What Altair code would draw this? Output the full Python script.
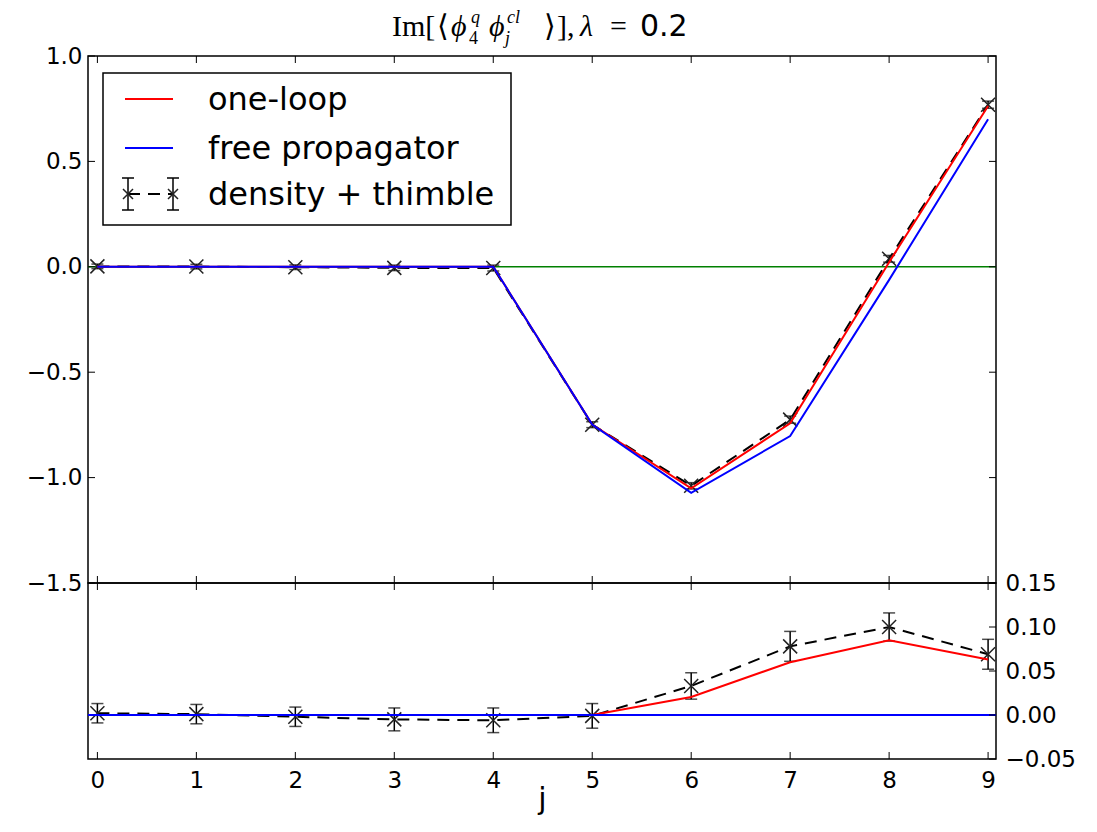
import altair as alt
import pandas as pd

# ---------------- data ----------------
j = list(range(10))
free_top = [0.0, 0.0, 0.0, 0.0, 0.0, -0.748, -1.072, -0.803, -0.062, 0.700]
oneloop_top = [0.0, 0.0, 0.0, 0.0, 0.0, -0.748, -1.051, -0.742, 0.022, 0.763]
density_top = [0.002, 0.001, -0.002, -0.005, -0.006, -0.749, -1.039, -0.725, 0.038, 0.769]
density_err = [0.011, 0.011, 0.011, 0.013, 0.014, 0.014, 0.015, 0.017, 0.016, 0.017]
oneloop_diff = [0.0, 0.0, 0.0, 0.0, 0.0, 0.0, 0.0205, 0.060, 0.085, 0.063]
density_diff = [0.002, 0.001, -0.002, -0.005, -0.006, -0.001, 0.033, 0.078, 0.100, 0.069]

x_ticks = list(range(10))
y_ticks_top = [-1.5, -1.0, -0.5, 0.0, 0.5, 1.0]
y_ticks_bot = [-0.05, 0.0, 0.05, 0.10, 0.15]
legend_labels = ["one-loop", "free propagator", "density + thimble"]

# ---------------- styling ----------------
W, HT, HB = 908, 527, 176
TL = 7  # inward tick length
FONT = "DejaVu Sans"
MATH = "Liberation Serif"
X_PATH = "M-1,-1L1,1M1,-1L-1,1"
LFS = 23  # tick label font size

XS = alt.Scale(domain=[-0.095, 9.08], nice=False, zero=False)
YT = alt.Scale(domain=[-1.5, 1.0], nice=False, zero=False)
YB = alt.Scale(domain=[-0.05, 0.15], nice=False, zero=False)

top_df = pd.DataFrame({"j": j, "free": free_top, "loop": oneloop_top,
                       "dens": density_top, "err": density_err})
bot_df = pd.DataFrame({"j": j, "loop": oneloop_diff, "dens": density_diff,
                       "err": density_err})
xt_df = pd.DataFrame({"t": x_ticks})
yt_top_df = pd.DataFrame({"v": y_ticks_top})
yt_bot_df = pd.DataFrame({"v": y_ticks_bot})
one = pd.DataFrame({"a": [0]})

common_axis = dict(labelFontSize=LFS, labelFont=FONT, labelColor="black",
                   ticks=False, domain=False, grid=False, labelOverlap=False)

XA_TOP = None
XA_BOT = alt.Axis(values=x_ticks, format="d", labelPadding=10, labelFlush=False,
                  title="j", titleFont=FONT, titleFontSize=30, titleFontWeight="normal",
                  titleColor="black", titlePadding=-8, **common_axis)
YA_TOP = alt.Axis(values=y_ticks_top, format=".1f", labelPadding=6, title=None,
                  orient="left", **common_axis)
YA_BOT = alt.Axis(values=y_ticks_bot, format=".2f", labelPadding=9, title=None,
                  orient="right", labelFlush=False, **common_axis)


def panel(df, ys, ya, xa, height, is_top):
    xe = alt.X("j:Q", scale=XS, axis=xa)
    base = alt.Chart(df).transform_calculate(
        lo="datum.dens - datum.err", hi="datum.dens + datum.err")
    layers = []
    if is_top:
        layers.append(alt.Chart(one).mark_rule(color="#008000", strokeWidth=1.5).encode(
            y=alt.YDatum(0.0, type="quantitative", scale=ys, axis=ya)))
    layers += [
        base.mark_rule(color="black", strokeWidth=1.5).encode(
            x=xe, y=alt.Y("lo:Q", scale=ys, axis=ya), y2="hi:Q"),
        base.mark_tick(orient="horizontal", size=12, thickness=1.5, color="black").encode(
            x=xe, y=alt.Y("lo:Q", scale=ys, axis=ya)),
        base.mark_tick(orient="horizontal", size=12, thickness=1.5, color="black").encode(
            x=xe, y=alt.Y("hi:Q", scale=ys, axis=ya)),
        base.mark_line(color="black", strokeWidth=2, strokeDash=[12, 8]).encode(
            x=xe, y=alt.Y("dens:Q", scale=ys, axis=ya)),
        base.mark_point(shape=X_PATH, size=196, filled=False, stroke="#222222",
                        strokeWidth=1.5, opacity=1).encode(
            x=xe, y=alt.Y("dens:Q", scale=ys, axis=ya)),
        base.mark_line(color="#ff0000", strokeWidth=2).encode(
            x=xe, y=alt.Y("loop:Q", scale=ys, axis=ya)),
    ]
    if is_top:
        layers.append(base.mark_line(color="#0000ff", strokeWidth=2).encode(
            x=xe, y=alt.Y("free:Q", scale=ys, axis=ya)))
    else:
        layers.append(alt.Chart(one).mark_rule(color="#0000ff", strokeWidth=2).encode(
            y=alt.YDatum(0.0, type="quantitative", scale=ys, axis=ya)))
    # inward ticks (matplotlib classic style)
    xte = alt.X("t:Q", scale=XS, axis=xa)
    layers += [
        alt.Chart(xt_df).mark_rule(color="black", strokeWidth=1).encode(
            x=xte, y=alt.value(0), y2=alt.value(TL)),
        alt.Chart(xt_df).mark_rule(color="black", strokeWidth=1).encode(
            x=xte, y=alt.value(height - TL), y2=alt.value(height)),
    ]
    ytdf = yt_top_df if is_top else yt_bot_df
    yte = alt.Y("v:Q", scale=ys, axis=ya)
    if is_top:
        layers.append(alt.Chart(ytdf).mark_rule(color="black", strokeWidth=1).encode(
            y=yte, x=alt.value(0), x2=alt.value(TL)))
    layers.append(alt.Chart(ytdf).mark_rule(color="black", strokeWidth=1).encode(
        y=yte, x=alt.value(W - TL), x2=alt.value(W)))
    return layers


def txt(text, x, y, size, font=FONT, style="normal", baseline="alphabetic", align="left"):
    return alt.Chart(one).mark_text(text=text, align=align, baseline=baseline,
                                    fontSize=size, font=font, fontStyle=style,
                                    color="black").encode(x=alt.value(x), y=alt.value(y))


def hrule(x1, x2, y, color="black", sw=2, dash=None):
    kw = dict(color=color, strokeWidth=sw)
    if dash:
        kw["strokeDash"] = dash
    return alt.Chart(one).mark_rule(**kw).encode(x=alt.value(x1), x2=alt.value(x2), y=alt.value(y))


def vrule(x, y1, y2, sw=1.5):
    return alt.Chart(one).mark_rule(color="black", strokeWidth=sw).encode(
        x=alt.value(x), y=alt.value(y1), y2=alt.value(y2))


# legend (drawn inside the top panel)
rows = [43, 92, 138]
legend = [
    alt.Chart(one).mark_rect(fill="white", stroke="black", strokeWidth=1.5).encode(
        x=alt.value(15), x2=alt.value(423), y=alt.value(17), y2=alt.value(169)),
    hrule(37, 85, rows[0], color="#ff0000"),
    hrule(37, 85, rows[1], color="#0000ff"),
    hrule(40, 85, rows[2], dash=[12, 8]),
]
for gx in (40, 85):
    legend += [
        vrule(gx, rows[2] - 16, rows[2] + 16),
        hrule(gx - 6, gx + 6, rows[2] - 16, sw=1.5),
        hrule(gx - 6, gx + 6, rows[2] + 16, sw=1.5),
        alt.Chart(one).mark_point(shape=X_PATH, size=100, filled=False, stroke="#222222",
                                  strokeWidth=1.5, opacity=1).encode(
            x=alt.value(gx), y=alt.value(rows[2])),
    ]
for lab, ry in zip(legend_labels, rows):
    legend.append(txt(lab, 120, ry + 1, 32, baseline="middle"))

# title built from pieces (math-like)
TB = -20
title = [
    txt("Im[", 304, TB, 30, font=MATH),
    txt("\u27e8", 349, TB, 30, font=MATH),
    txt("\u03d5", 363, TB, 30, font=MATH, style="italic"),
    txt("4", 381, TB + 8, 18, font=MATH),
    txt("q", 383, TB - 13, 18, font=MATH, style="italic"),
    txt("\u03d5", 401, TB, 30, font=MATH, style="italic"),
    txt("j", 417, TB + 8, 18, font=MATH, style="italic"),
    txt("cl", 419, TB - 13, 18, font=MATH, style="italic"),
    txt("\u27e9", 456, TB, 30, font=MATH),
    txt("],", 469, TB, 30, font=MATH),
    txt("\u03bb", 492, TB, 30, font=MATH, style="italic"),
    txt("=", 522, TB, 30, font=MATH),
    txt("0.2", 552, TB, 30, font=FONT),
]

top = alt.layer(*panel(top_df, YT, YA_TOP, XA_TOP, HT, True), *legend, *title).properties(
    width=W, height=HT)
bottom = alt.layer(*panel(bot_df, YB, YA_BOT, XA_BOT, HB, False)).properties(
    width=W, height=HB)

chart = alt.vconcat(top, bottom, spacing=0, bounds="flush").configure_view(
    stroke="black", strokeWidth=1.5).configure_concat(spacing=0).properties(
    padding={"left": 17, "top": 0, "right": 5, "bottom": 5}, background="white")

chart.save("out.html", embed_options={"renderer": "svg", "actions": False})
